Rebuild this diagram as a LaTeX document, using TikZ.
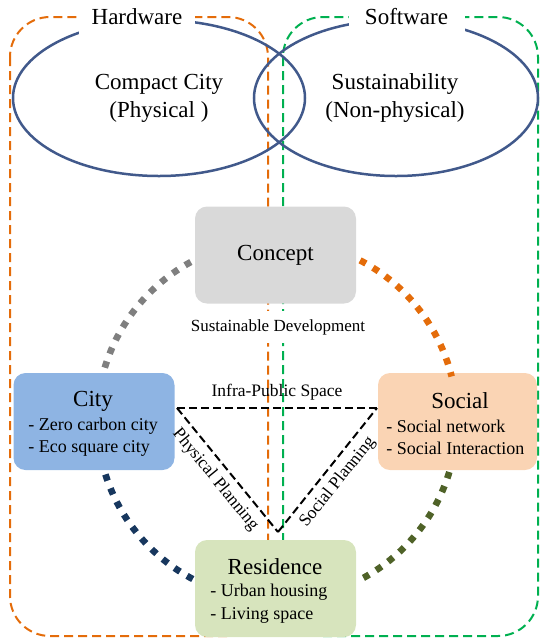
\documentclass[tikz,border=0pt]{standalone}
\usepackage{fontspec}
\setmainfont{Liberation Serif}

\definecolor{hwline}{HTML}{E46C0A}
\definecolor{swline}{HTML}{00B050}
\definecolor{ringline}{HTML}{41598B}
\definecolor{conceptfill}{HTML}{D9D9D9}
\definecolor{cityfill}{HTML}{8EB4E3}
\definecolor{socialfill}{HTML}{FAD4B4}
\definecolor{residencefill}{HTML}{D7E4BD}
\definecolor{arcgray}{HTML}{7F7F7F}
\definecolor{arcorange}{HTML}{E46C0A}
\definecolor{arcnavy}{HTML}{17375E}
\definecolor{arcolive}{HTML}{4F6228}

\begin{document}
\begin{tikzpicture}[
  x=0.5pt, y=-0.5pt,
  zone/.style={line width=1pt, dash pattern=on 4.5pt off 2.5pt, rounded corners=20pt},
  ring/.style={draw=ringline, line width=1.25pt},
  tag/.style={fill=white, minimum width=58pt, inner ysep=5pt, font=\fontsize{11.5}{13.8}\selectfont},
  ringtext/.style={align=center, font=\fontsize{11.5}{14}\selectfont},
  card/.style={rounded corners=6pt, minimum width=80.5pt, minimum height=48.5pt},
  cardtitle/.style={font=\fontsize{11.5}{13.8}\selectfont},
  carditems/.style={anchor=west, align=left, inner sep=0pt, font=\fontsize{9}{11}\selectfont},
  dotarc/.style={line width=3.3pt, dash pattern=on 3.3pt off 4.1pt},
  plan/.style={line width=1pt, dash pattern=on 4pt off 2pt},
  planlabel/.style={font=\fontsize{8.75}{10}\selectfont}
]

\useasboundingbox (0,0) rectangle (540,639);

% hardware / software zones
\draw[zone, hwline] (10,17) rectangle (268,636);
\draw[zone, swline] (283,17) rectangle (538,636);

% two rings
\draw[ring] (159,98) ellipse [x radius=146, y radius=78];
\draw[ring] (396,98) ellipse [x radius=142, y radius=78];
\node[ringtext] (compact) at (159,98) {Compact City\\(Physical )};
\node[ringtext] (sustain) at (395,98) {Sustainability\\(Non-physical)};

\node[tag] (hardware) at (137,17) {Hardware};
\node[tag] (software) at (406.5,17) {Software};

% cards
\node[card, fill=conceptfill, font=\fontsize{11.5}{13.8}\selectfont] (concept) at (275.5,255) {Concept};
\node[planlabel, fill=white, inner ysep=4pt, font=\fontsize{8.5}{10}\selectfont] (sustdev) at (278,327) {Sustainable Development};

\node[card, fill=cityfill] (city) at (94,421.5) {};
\node[cardtitle] (citytitle) at (93,401) {City};
\node[carditems] (cityitems) at (28,437) {- Zero carbon city\\- Eco square city};

\node[card, fill=socialfill, minimum width=79.5pt] (social) at (457.5,421.5) {};
\node[cardtitle] (socialtitle) at (460,401) {Social};
\node[carditems] (socialitems) at (386,437) {- Social network\\- Social Interaction};

\node[card, fill=residencefill] (residence) at (275.5,588.5) {};
\node[cardtitle] (residencetitle) at (275,567) {Residence};
\node[carditems, font=\fontsize{9}{11.5}\selectfont] (residenceitems) at (210,603.5) {- Urban housing\\- Living space};

% dotted ring
\coordinate (hub) at (277,420);
\draw[dotarc, arcgray] (hub) ++(-118.6:180) arc[start angle=-118.6, end angle=-163.5, radius=180];
\draw[dotarc, arcorange] (hub) ++(-62.5:180) arc[start angle=-62.5, end angle=-14, radius=180];
\draw[dotarc, arcnavy] (hub) ++(162.4:180) arc[start angle=162.4, end angle=117.7, radius=180];
\draw[dotarc, arcolive] (hub) ++(16.8:180) arc[start angle=16.8, end angle=62.7, radius=180];

% planning triangle
\coordinate (infraW) at (177,408);
\coordinate (infraE) at (377,408);
\coordinate (planS) at (278,532);
\draw[plan] (infraW) -- node[planlabel, above] (infralabel) {Infra-Public Space} (infraE);
\draw[plan] (infraW) -- node[planlabel, sloped, below, pos=0.5] (physlabel) {Physical Planning} (planS);
\draw[plan] (planS) -- node[planlabel, sloped, below, pos=0.48] (soclabel) {Social Planning} (infraE);

\end{tikzpicture}
\end{document}
